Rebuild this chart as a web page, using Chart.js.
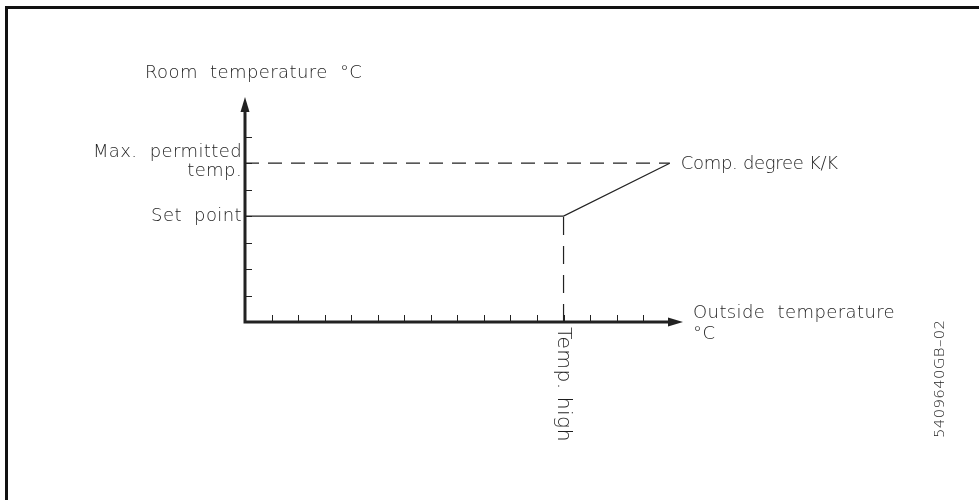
<!DOCTYPE html>
<html>
<head>
<meta charset="utf-8">
<script src="https://cdn.jsdelivr.net/npm/chart.js@4.4.1/dist/chart.umd.min.js"></script>
<style>
  html, body { margin: 0; padding: 0; background: #fff; }
  #wrap { width: 979px; height: 500px; position: relative; }
</style>
</head>
<body>
<div id="wrap"><canvas id="c"></canvas></div>
<script>
// Heating curve: room temperature held at the set point until the outside
// temperature reaches "Temp. high", then raised by the compensation degree.
const outsideTemp = [0, 12, 16];
const roomTemp = [4, 4, 6];

// Maximum permitted room temperature (dashed limit line)
const maxTempX = [0, 16];
const maxTempY = [6, 6];

// "Temp. high" marker (dashed drop line)
const tempHighX = [12, 12];
const tempHighY = [0, 4];

// Axis ranges and tick marks (unitless schematic)
const xMax = 16.5;
const yMax = 8.5;
const xTicks = [1, 2, 3, 4, 5, 6, 7, 8, 9, 10, 11, 12, 13, 14, 15];
const yTicks = [1, 2, 3, 4, 5, 6, 7];

// Text labels placed on the axes
const yAxisLabelValues = [6, 4];
const yAxisLabelTexts = [['Max.  permitted', 'temp.'], ['Set  point']];
const xAxisLabelValues = [12];
const xAxisLabelTexts = ['Temp. high'];
const yTitle = 'Room  temperature  \u00B0C';
const xTitle = ['Outside  temperature', '\u00B0C'];
const curveLabel = 'Comp. degree K/K';
const drawingNo = '5409640GB\u201302';

const INK = '#222';
const TEXT = '#1e1e1e';
const FONT = '200 18px "DejaVu Sans"';
const SPACING = '0.4px';
const ROTATED_LABEL_LEN = 115;  // run length of the rotated axis label, px

function pts(xs, ys) { return xs.map((x, i) => ({ x: x, y: ys[i] })); }

const schematic = {
  id: 'schematic',
  beforeDraw(chart) {
    const ctx = chart.ctx;
    ctx.save();
    ctx.fillStyle = '#fff';
    ctx.fillRect(0, 0, chart.width, chart.height);
    // drawing frame
    ctx.strokeStyle = '#111';
    ctx.lineWidth = 3;
    ctx.beginPath();
    ctx.moveTo(6.5, chart.height);
    ctx.lineTo(6.5, 7.5);
    ctx.lineTo(chart.width, 7.5);
    ctx.stroke();
    ctx.restore();
  },
  afterDatasetsDraw(chart) {
    const ctx = chart.ctx;
    const xs = chart.scales.x, ys = chart.scales.y;
    const x0 = xs.getPixelForValue(0), y0 = ys.getPixelForValue(0);
    const xEnd = xs.getPixelForValue(xMax), yEnd = ys.getPixelForValue(yMax);
    ctx.save();
    // tick marks (inside the axes)
    ctx.strokeStyle = INK;
    ctx.lineWidth = 1;
    ctx.beginPath();
    xTicks.forEach(v => {
      const px = Math.round(xs.getPixelForValue(v)) + 0.5;
      ctx.moveTo(px, y0); ctx.lineTo(px, y0 - 7);
    });
    yTicks.forEach(v => {
      const py = Math.round(ys.getPixelForValue(v)) + 0.5;
      ctx.moveTo(x0, py); ctx.lineTo(x0 + 7, py);
    });
    ctx.stroke();
    // axes
    ctx.lineWidth = 3;
    ctx.beginPath();
    ctx.moveTo(x0, yEnd + 12);
    ctx.lineTo(x0, y0);
    ctx.lineTo(xEnd - 12, y0);
    ctx.stroke();
    // arrow heads
    ctx.fillStyle = INK;
    ctx.beginPath();
    ctx.moveTo(x0, yEnd);
    ctx.lineTo(x0 - 4.5, yEnd + 15);
    ctx.lineTo(x0 + 4.5, yEnd + 15);
    ctx.closePath();
    ctx.fill();
    ctx.beginPath();
    ctx.moveTo(xEnd, y0);
    ctx.lineTo(xEnd - 15, y0 - 4.5);
    ctx.lineTo(xEnd - 15, y0 + 4.5);
    ctx.closePath();
    ctx.fill();

    // text
    ctx.fillStyle = TEXT;
    ctx.font = FONT;
    ctx.letterSpacing = SPACING;
    ctx.textBaseline = 'middle';
    // y-axis title
    ctx.textAlign = 'left';
    ctx.fillText(yTitle, x0 - 100, yEnd - 24);
    // y-axis labels
    ctx.textAlign = 'right';
    yAxisLabelValues.forEach((v, i) => {
      const py = ys.getPixelForValue(v);
      const lines = yAxisLabelTexts[i];
      const start = py - (lines.length - 1) * 19 + (lines.length > 1 ? 8 : 0);
      lines.forEach((t, j) => ctx.fillText(t, x0 - 3, start + j * 19));
    });
    // x-axis title
    ctx.textAlign = 'left';
    ctx.fillText(xTitle[0], xEnd + 10, y0 - 9);
    ctx.fillText(xTitle[1], xEnd + 10, y0 + 12);
    // curve end label
    const lastX = xs.getPixelForValue(outsideTemp[outsideTemp.length - 1]);
    const lastY = ys.getPixelForValue(roomTemp[roomTemp.length - 1]);
    ctx.letterSpacing = '-0.3px';
    ctx.fillText(curveLabel, lastX + 11, lastY + 1);
    ctx.letterSpacing = SPACING;
    // x-axis labels, rotated to read downward, fitted to a fixed run length
    xAxisLabelValues.forEach((v, i) => {
      const px = xs.getPixelForValue(v);
      const w = ctx.measureText(xAxisLabelTexts[i]).width;
      const sx = w > 0 ? ROTATED_LABEL_LEN / w : 1.08;
      ctx.save();
      ctx.translate(px, y0 + 5);
      ctx.rotate(Math.PI / 2);
      ctx.scale(sx, 1.08);
      ctx.textAlign = 'left';
      ctx.fillText(xAxisLabelTexts[i], 0, 0);
      ctx.restore();
    });
    // drawing number, reading upward
    ctx.save();
    ctx.translate(940, 438);
    ctx.rotate(-Math.PI / 2);
    ctx.scale(0.83, 0.83);
    ctx.textAlign = 'left';
    ctx.fillText(drawingNo, 0, 0);
    ctx.restore();
    ctx.restore();
  }
};

new Chart(document.getElementById('c'), {
  type: 'scatter',
  data: {
    datasets: [
      { data: pts(outsideTemp, roomTemp), showLine: true, borderColor: INK, borderWidth: 1.2, pointRadius: 0 },
      { data: pts(maxTempX, maxTempY), showLine: true, borderColor: INK, borderWidth: 1.2, borderDash: [14, 9], pointRadius: 0 },
      { data: pts(tempHighX, tempHighY), showLine: true, borderColor: INK, borderWidth: 1.2, borderDash: [18, 11], pointRadius: 0 }
    ]
  },
  options: {
    responsive: true,
    maintainAspectRatio: false,
    animation: false,
    layout: { padding: { left: 245, right: 296, top: 97, bottom: 178 } },
    plugins: { legend: { display: false }, tooltip: { enabled: false } },
    scales: {
      x: { type: 'linear', min: 0, max: xMax, display: false },
      y: { type: 'linear', min: 0, max: yMax, display: false }
    }
  },
  plugins: [schematic]
});
</script>
</body>
</html>
